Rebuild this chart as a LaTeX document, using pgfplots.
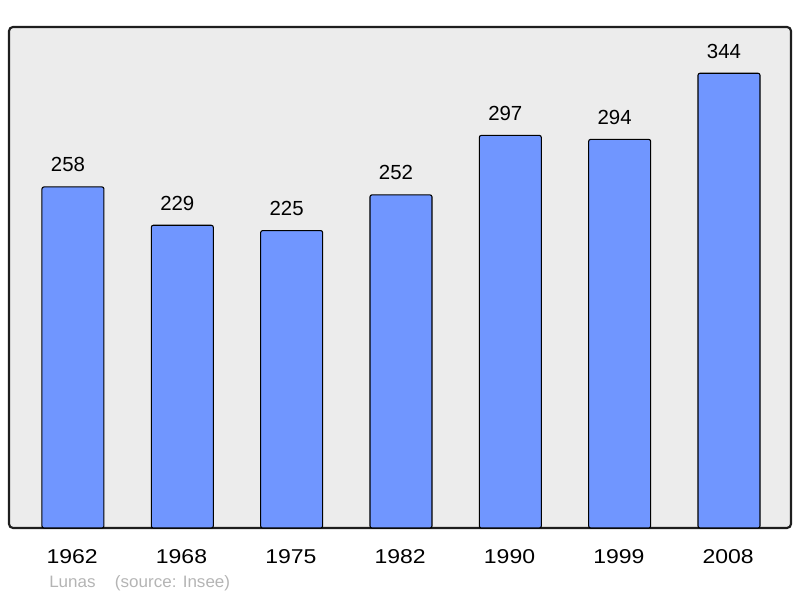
\documentclass[border=0pt]{standalone}
\usepackage{pgfplots}
\pgfplotsset{compat=1.18}
\usepackage{fontspec}
\setmainfont{Liberation Sans}
\newfontfamily\widefont[FakeStretch=1.15]{Liberation Sans}
\newfontfamily\srcfont[FakeStretch=1.03]{Liberation Sans}
\definecolor{barblue}{HTML}{7096FF}
\definecolor{bgray}{HTML}{ECECEC}
\definecolor{frame}{HTML}{1E1E1E}
\definecolor{srcgray}{HTML}{B4B4B4}
\begin{document}
\begin{tikzpicture}[x=1pt,y=1pt]
\begin{axis}[
  scale only axis,
  width=586.5pt, height=375.75pt,
  at={(0,0)}, anchor=south west,
  ybar, bar width=46.5pt,
  ymin=0, ymax=379,
  xmin=-0.585, xmax=6.567,
  xtick={0,1,2,3,4,5,6},
  xticklabels={1962,1968,1975,1982,1990,1999,2008},
  ytick=\empty,
  /pgf/number format/assume math mode=true,
  axis line style={draw=none},
  major tick length=0pt,
  axis background/.style={fill=bgray, draw=frame, line width=1.6pt, rounded corners=3pt},
  xticklabel style={font=\widefont\fontsize{15}{15}\selectfont, anchor=base, yshift=-27pt, xshift=-0.6pt, inner sep=0pt},
  nodes near coords,
  every node near coord/.append style={font=\fontsize{15.3}{15.3}\selectfont, anchor=base, yshift=11.25pt, xshift=-3.75pt, inner sep=0pt, text=black},
  clip=false,
]
\addplot[fill=barblue, draw=black, line width=0.8pt, rounded corners=1.5pt] coordinates {
(0,258) (1,229) (2,225) (3,252) (4,297) (5,294) (6,344)};
\end{axis}
\node[anchor=base west, inner sep=0pt, text=srcgray, font=\srcfont\fontsize{12.4}{12.4}\selectfont] at (30,-45) {Lunas\hspace{14.5pt}(source: Insee)};
\path (-6.75,-52.5) rectangle (593.25,396);
\end{tikzpicture}
\end{document}
